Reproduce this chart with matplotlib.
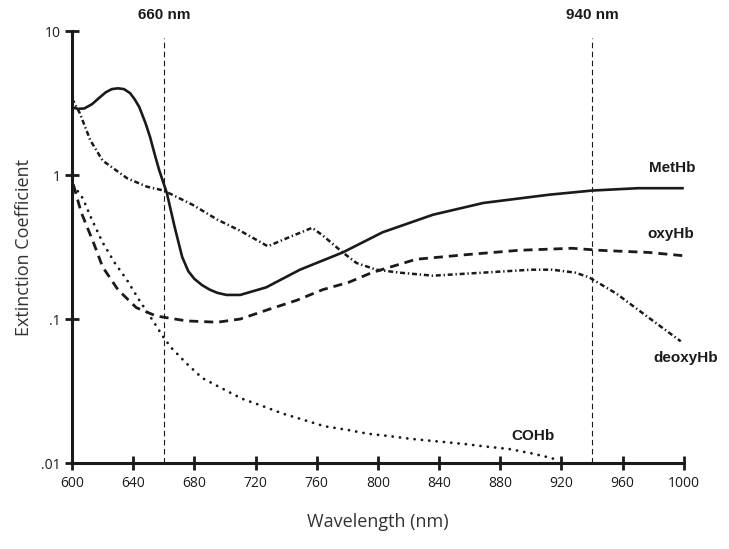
import numpy as np
import matplotlib
matplotlib.use("Agg")
import matplotlib.pyplot as plt
import matplotlib.transforms as mtransforms

# wavelengths (nm) and extinction values
methb_x = [600, 604, 608, 613, 618, 622, 626, 630, 634, 638, 641, 644, 648, 651, 654, 657,
           662, 667, 672, 676, 680, 685, 690, 695, 701, 710, 727, 749, 777, 803, 836, 869,
           912, 940, 970, 1000]
methb_y = [2.95, 2.88, 2.9, 3.1, 3.45, 3.75, 3.95, 4.0, 3.95, 3.7, 3.35, 2.96, 2.3, 1.84, 1.4, 1.08,
           0.75, 0.44, 0.27, 0.215, 0.19, 0.172, 0.16, 0.152, 0.147, 0.147, 0.166, 0.22, 0.29, 0.40,
           0.53, 0.64, 0.73, 0.78, 0.81, 0.81]

oxy_x = [601, 606, 614, 620, 630, 642, 655, 675, 695, 710, 729, 747, 764, 781,
         796, 825, 858, 892, 927, 945, 977, 1000]
oxy_y = [0.85, 0.55, 0.34, 0.23, 0.16, 0.12, 0.105, 0.097, 0.095, 0.10, 0.117, 0.135, 0.16, 0.18,
         0.21, 0.26, 0.28, 0.30, 0.31, 0.30, 0.29, 0.275]

deoxy_x = [600, 605, 612, 620, 636, 649, 660, 679, 695, 710, 728, 742, 757, 764,
           777, 786, 799, 814, 836, 869, 900, 914, 929, 938, 956, 973, 998]
deoxy_y = [3.4, 2.7, 1.74, 1.26, 0.95, 0.83, 0.78, 0.62, 0.49, 0.41, 0.32, 0.37, 0.43, 0.38,
           0.29, 0.245, 0.22, 0.21, 0.20, 0.21, 0.22, 0.22, 0.21, 0.195, 0.15, 0.11, 0.07]

coh_x = [601, 607, 613, 620, 628, 636, 644, 653, 660, 665, 675, 685, 698, 711, 724,
         738, 751, 765, 780, 793, 807, 822, 843, 858, 871, 886, 900, 914, 918]
coh_y = [0.85, 0.69, 0.49, 0.34, 0.245, 0.186, 0.135, 0.097, 0.074, 0.063, 0.049, 0.039, 0.033,
         0.028, 0.025, 0.022, 0.020, 0.018, 0.017, 0.016, 0.0154, 0.0147, 0.014, 0.0135,
         0.013, 0.0125, 0.0117, 0.0108, 0.0102]

markers_nm = [660, 940]
xticks = [600, 640, 680, 720, 760, 800, 840, 880, 920, 960, 1000]
yticks = [0.01, 0.1, 1, 10]
ytick_labels = [".01", ".1", "1", "10"]

plt.rcParams['lines.scale_dashes'] = False
plt.rcParams['font.family'] = ['Open Sans', 'DejaVu Sans']

fig = plt.figure(figsize=(7.29, 5.49), dpi=100)
ax = fig.add_axes([0.0988, 0.1566, 0.8392, 0.7869])
ink = '#1a1a1a'

ax.plot(methb_x, methb_y, color=ink, lw=1.9, solid_capstyle='butt', solid_joinstyle='round')
l, = ax.plot(oxy_x, oxy_y, color=ink, lw=2.0)
l.set_dashes((6.5, 4.3))
l, = ax.plot(deoxy_x, deoxy_y, color=ink, lw=1.8)
l.set_dashes((3.6, 2.0, 1.0, 2.0))
l, = ax.plot(coh_x, coh_y, color=ink, lw=2.0, dash_capstyle='round')
l.set_dashes((0.1, 5.2))

for m in markers_nm:
    ax.plot([m, m], [0.01, 8.9], color=ink, lw=0.8, dashes=(4, 2.5))
    ax.text(m, 1.02, "%d nm" % m, transform=mtransforms.blended_transform_factory(ax.transData, ax.transAxes),
            ha='center', va='bottom', fontsize=11, fontweight='bold', family='Liberation Sans', color=ink)

lab = dict(fontsize=11, fontweight='bold', family='Liberation Sans', color=ink, va='center', ha='left')
ax.text(977, 1.12, "MetHb", **lab)
ax.text(976, 0.39, "oxyHb", **lab)
ax.text(980, 0.054, "deoxyHb", **lab)
ax.text(887, 0.0154, "COHb", **lab)

ax.set_yscale('log')
ax.set_xlim(600, 1000)
ax.set_ylim(0.01, 10)
ax.set_xticks(xticks)
ax.set_yticks(yticks)
ax.set_yticklabels(ytick_labels)
ax.yaxis.set_minor_locator(matplotlib.ticker.NullLocator())

for s in ['top', 'right']:
    ax.spines[s].set_visible(False)
for s in ['left', 'bottom']:
    ax.spines[s].set_linewidth(2.2)
    ax.spines[s].set_color(ink)
ax.tick_params(direction='inout', length=10, width=2, colors=ink, labelsize=10, pad=4)
ax.tick_params(axis='y', pad=3)

ax.set_xlabel("Wavelength (nm)", fontsize=13, color='#333333', labelpad=16)
ax.set_ylabel("Extinction Coefficient", fontsize=13, color='#333333', labelpad=6)

fig.savefig("out.png", dpi=100)
